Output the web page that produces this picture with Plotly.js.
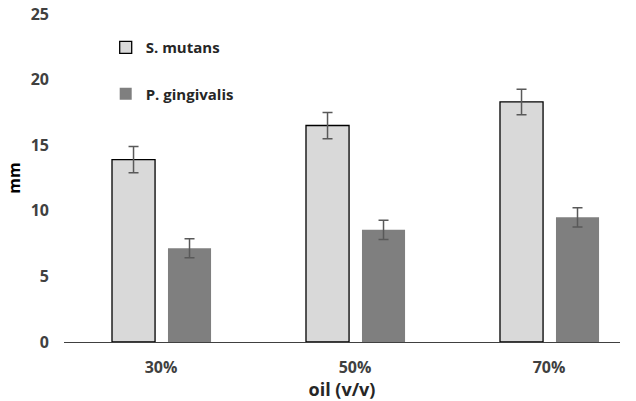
<!DOCTYPE html>
<html><head><meta charset="utf-8">
<script src="https://cdn.plot.ly/plotly-3.0.1.min.js"></script>
<style>body{margin:0;background:#fff}#chart{width:636px;height:401px}</style>
</head><body><div id="chart"></div>
<script>
const categories = ['30%', '50%', '70%'];
const sMutans = [13.9, 16.5, 18.3];
const sMutansErr = [1.0, 1.0, 0.97];
const pGingivalis = [7.15, 8.55, 9.5];
const pGingivalisErr = [0.72, 0.73, 0.74];
const yTicks = [0, 5, 10, 15, 20, 25];

const xIdx = categories.map((c, i) => i);
const font = {family: 'Open Sans, Liberation Sans, sans-serif', color: '#404040'};

const traces = [
  {type: 'bar', name: '<b>S. mutans</b>', x: xIdx, y: sMutans, width: 0.222, offset: -0.2526,
   legendgroup: 'a',
   marker: {color: '#d9d9d9', line: {color: '#000000', width: 1.3}},
   error_y: {type: 'data', array: sMutansErr, visible: true, color: '#595959', thickness: 1.5, width: 5}},
  {type: 'bar', name: '<b>P. gingivalis</b>', x: xIdx, y: pGingivalis, width: 0.222, offset: 0.036,
   legendgroup: 'b',
   marker: {color: '#7f7f7f', line: {color: '#7f7f7f', width: 0}},
   error_y: {type: 'data', array: pGingivalisErr, visible: true, color: '#595959', thickness: 1.5, width: 5}}
];

const layout = {
  width: 636, height: 401,
  margin: {l: 64, r: 16, t: 14, b: 59},
  paper_bgcolor: '#fff', plot_bgcolor: '#fff',
  barmode: 'overlay',
  showlegend: true,
  legend: {x: 0.075, y: 0.948, xanchor: 'left', yanchor: 'top', bgcolor: 'rgba(0,0,0,0)',
           traceorder: 'grouped', tracegroupgap: 24,
           font: {family: font.family, size: 15, color: '#262626'}},
  xaxis: {
    range: [-0.5, 2.366], tickmode: 'array', tickvals: xIdx,
    ticktext: categories.map(c => '<b>' + c + '</b>'),
    showline: true, linecolor: '#404040', linewidth: 1.3, ticks: '', showgrid: false, zeroline: false,
    tickfont: {family: font.family, size: 16, color: '#404040'},
    ticklabelstandoff: 10,
    title: {text: '<b>oil (v/v)</b>', font: {family: font.family, size: 18, color: '#262626'}, standoff: 9}
  },
  yaxis: {
    range: [0, 25], tickmode: 'array', tickvals: yTicks,
    ticktext: yTicks.map(v => '<b>' + v + '</b>'),
    showline: false, showgrid: false, zeroline: false, ticks: '',
    tickfont: {family: font.family, size: 16, color: '#404040'},
    ticklabelstandoff: 14,
    title: {text: '<b>mm</b>', font: {family: font.family, size: 16, color: '#000'}, standoff: 6}
  }
};

Plotly.newPlot('chart', traces, layout, {displayModeBar: false, staticPlot: true});
</script></body></html>
